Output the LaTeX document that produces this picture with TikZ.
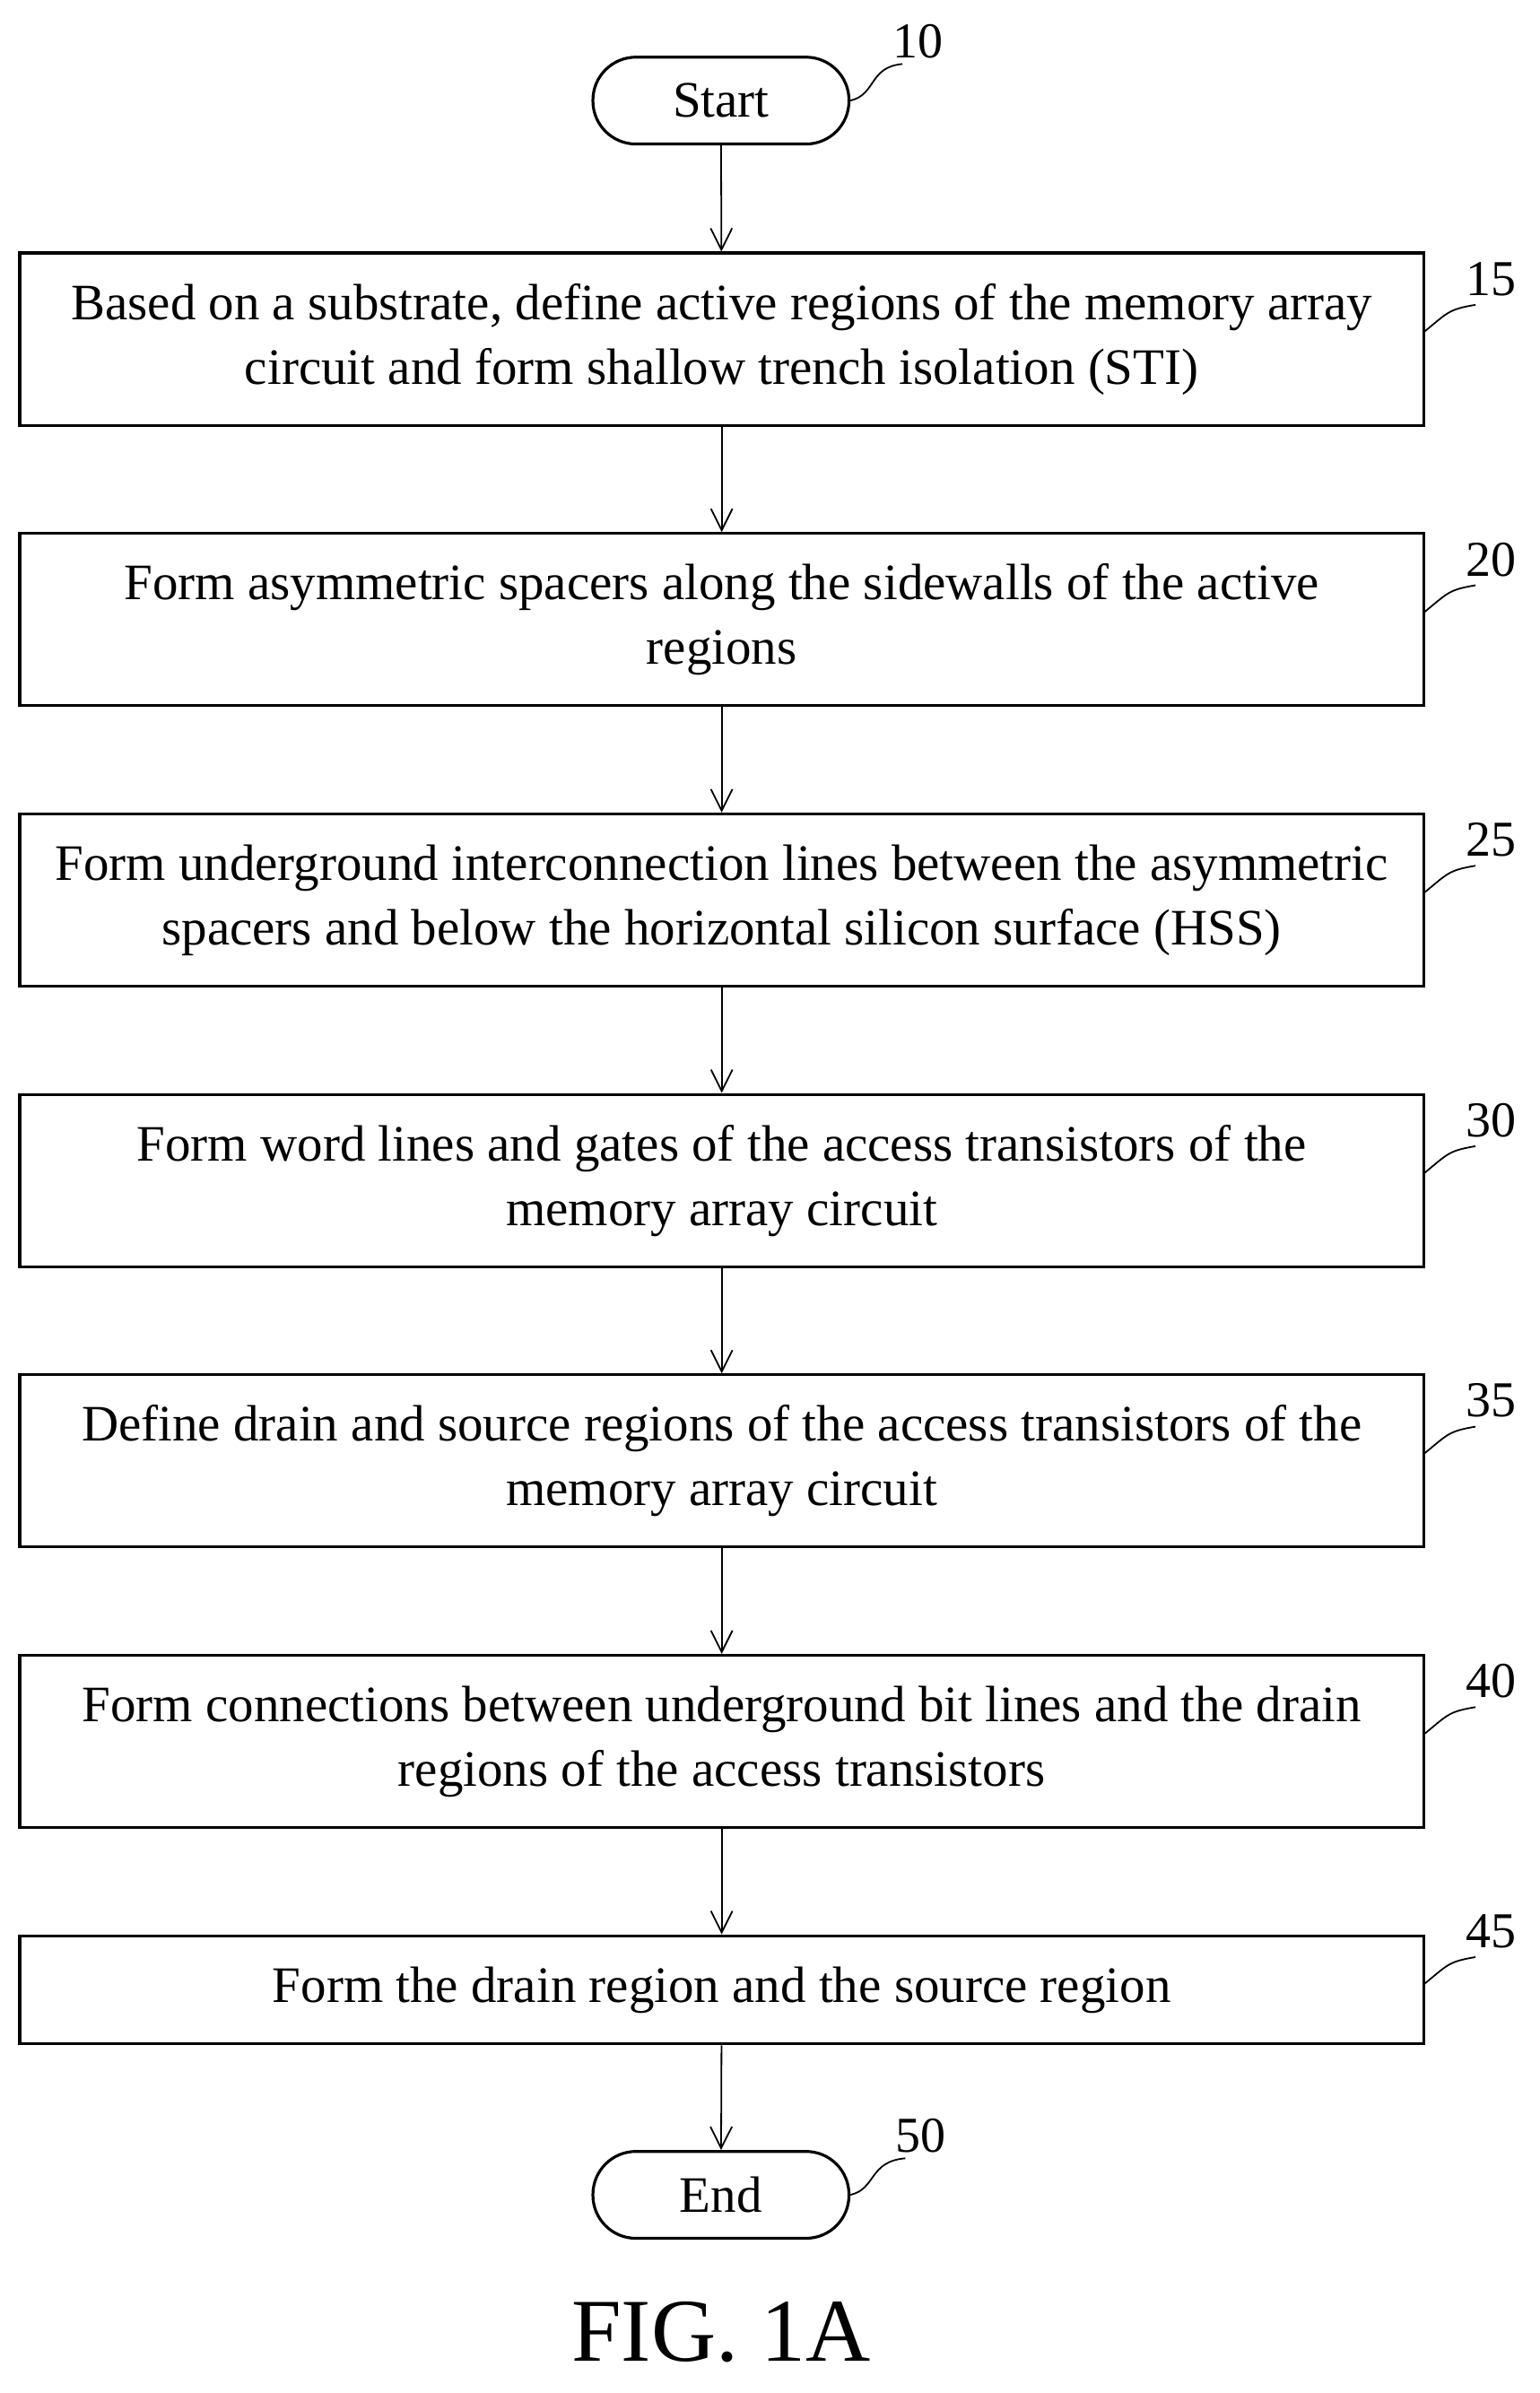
\documentclass[tikz,border=0pt]{standalone}
\usepackage{fontspec}
\setmainfont{Liberation Serif}
\usetikzlibrary{arrows.meta}
\begin{document}
\begin{tikzpicture}[x=0.85pt,y=-0.85pt,
  box/.style={draw,line width=1.6pt,align=center,font=\fontsize{28.5}{36}\selectfont},
  term/.style={draw,line width=1.6pt,rounded corners=24pt,minimum width=168*0.85pt,minimum height=57*0.85pt,font=\fontsize{28.5}{32}\selectfont},
  arr/.style={line width=0.9pt,-{Straight Barb[length=12pt,width=12pt]}},
  lead/.style={line width=0.9pt},
  lab/.style={font=\fontsize{28}{32}\selectfont}]
\useasboundingbox (0,0) rectangle (1010,1570);
\node[term] (s) at (473,66) {Start};
\node[term] (e) at (473,1440) {End};
\def\B#1#2#3#4{\node[box,minimum width=921*0.85pt,minimum height=#3*0.85pt] (#1) at (473.5,#2) {#4};}
\B{b1}{222.5}{113}{Based on a substrate, define active regions of the memory array\\ circuit and form shallow trench isolation (STI)}
\B{b2}{406.5}{113}{Form asymmetric spacers along the sidewalls of the active\\ regions}
\B{b3}{590.5}{113}{Form underground interconnection lines between the asymmetric\\ spacers and below the horizontal silicon surface (HSS)}
\B{b4}{774.5}{113}{Form word lines and gates of the access transistors of the\\ memory array circuit}
\B{b5}{958.5}{113}{Define drain and source regions of the access transistors of the\\ memory array circuit}
\B{b6}{1142.5}{113}{Form connections between underground bit lines and the drain\\ regions of the access transistors}
\B{b7}{1305.5}{71}{Form the drain region and the source region}
\draw[arr] (s) -- (b1);
\draw[arr] (b1) -- (b2);
\draw[arr] (b2) -- (b3);
\draw[arr] (b3) -- (b4);
\draw[arr] (b4) -- (b5);
\draw[arr] (b5) -- (b6);
\draw[arr] (b6) -- (b7);
\draw[arr] (b7) -- (e);
\node[lab] (l10) at (602,27) {10};
\draw[lead] (s.east) .. controls (575,62) and (570,44) .. (592,42);
\node[lab] (l50) at (604,1401) {50};
\draw[lead] (e.east) .. controls (575,1436) and (570,1418) .. (594,1416);
\foreach \n/\y in {15/183,20/367,25/551,30/735,35/919,40/1103,45/1267}{
  \node[lab] at (978,\y) {\n};
  \draw[lead] (934,\y+35) .. controls (950,\y+22) and (950,\y+20) .. (968,\y+17);
}
\node[font=\fontsize{50}{60}\selectfont] (fig) at (473,1530) {FIG. 1A};
\end{tikzpicture}
\end{document}
